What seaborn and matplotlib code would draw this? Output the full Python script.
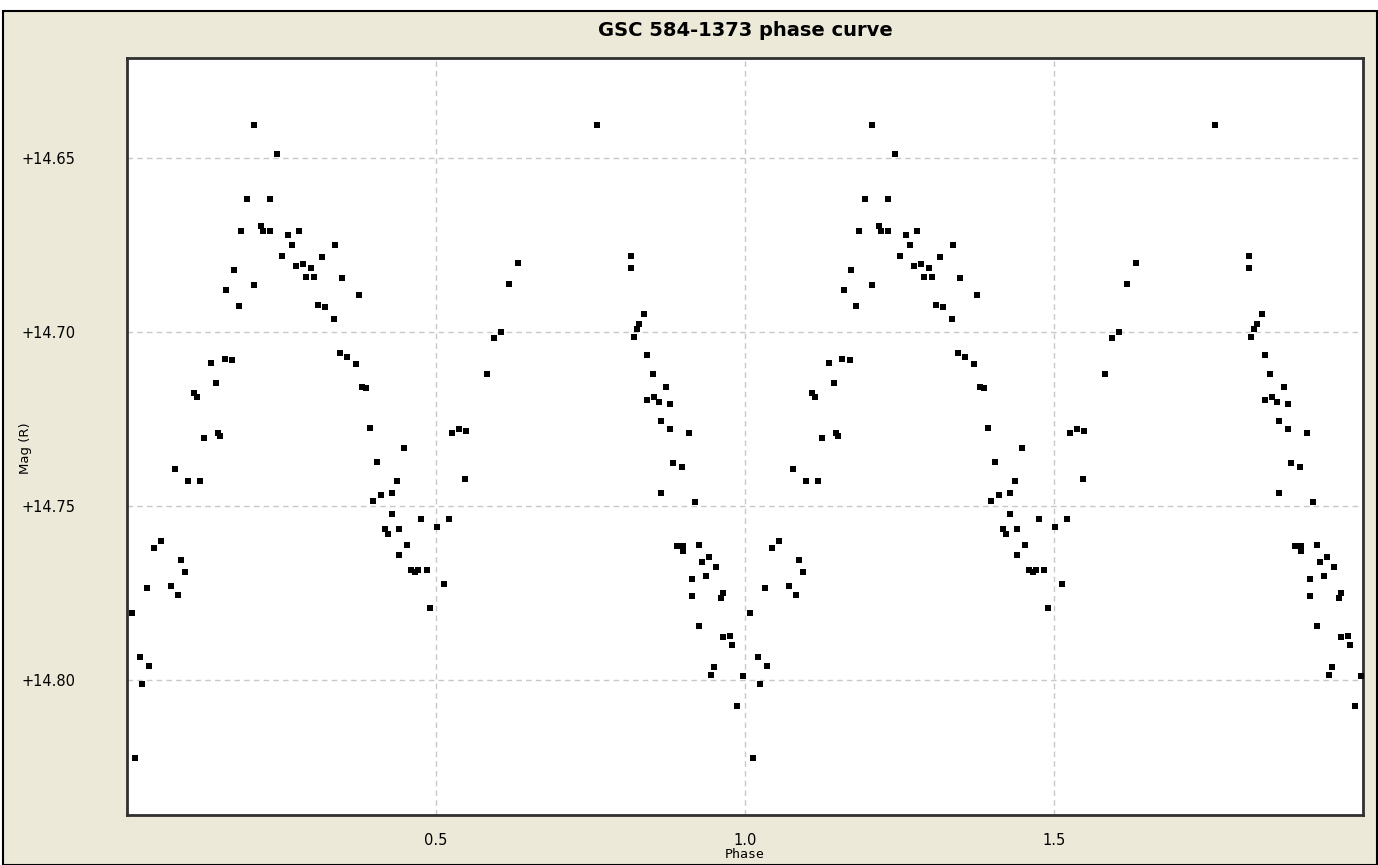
import matplotlib
matplotlib.use("Agg")
import matplotlib.pyplot as plt
from matplotlib.patches import Rectangle
import seaborn as sns
import pandas as pd

# One cycle of the folded light curve (phase 0..1)
phase = [
    0.0076, 0.0130, 0.0216, 0.0243, 0.0329, 0.0357, 0.0438, 0.0551, 0.0713, 0.0773,
    0.0832, 0.0880, 0.0940, 0.0994, 0.1086, 0.1140, 0.1188, 0.1248, 0.1356, 0.1437,
    0.1475, 0.1502, 0.1577, 0.1605, 0.1697, 0.1723, 0.1804, 0.1837, 0.1945, 0.2053,
    0.2053, 0.2161, 0.2193, 0.2313, 0.2313, 0.2420, 0.2507,
    0.2609, 0.2669, 0.2728, 0.2783, 0.2841, 0.2890, 0.2977, 0.3031, 0.3085, 0.3150,
    0.3204, 0.3344, 0.3366, 0.3452, 0.3480, 0.3566, 0.3700, 0.3760, 0.3804, 0.3874,
    0.3928, 0.3976, 0.4041, 0.4117, 0.4170, 0.4230, 0.4284, 0.4284, 0.4371, 0.4397,
    0.4397, 0.4485, 0.4538, 0.4598, 0.4656, 0.4711, 0.4760, 0.4846, 0.4900, 0.5013,
    0.5122, 0.5208, 0.5256, 0.5376, 0.5462, 0.5490, 0.5823, 0.5937, 0.6045, 0.6180,
    0.6321,
    0.7606, 0.8163, 0.8163, 0.8196, 0.8244, 0.8282, 0.8363, 0.8412, 0.8417, 0.8503,
    0.8525, 0.8611, 0.8639, 0.8639, 0.8725, 0.8779, 0.8779, 0.8833, 0.8893, 0.8974,
    0.9000, 0.9000, 0.9087, 0.9141, 0.9141, 0.9194, 0.9254, 0.9254, 0.9308, 0.9363,
    0.9421, 0.9444, 0.9503, 0.9535, 0.9616, 0.9648, 0.9648, 0.9757, 0.9784, 0.9875,
    0.9973,
]
mag = [
    14.7807, 14.8223, 14.7932, 14.8010, 14.7734, 14.7960, 14.7620, 14.7600, 14.7729, 14.7392,
    14.7754, 14.7654, 14.7689, 14.7427, 14.7175, 14.7185, 14.7427, 14.7304, 14.7087, 14.7146,
    14.7289, 14.7299, 14.7076, 14.6879, 14.7081, 14.6820, 14.6924, 14.6710, 14.6617, 14.6404,
    14.6864, 14.6695, 14.6710, 14.6617, 14.6710, 14.6489, 14.6780,
    14.6721, 14.6750, 14.6810, 14.6710, 14.6805, 14.6840, 14.6815, 14.6840, 14.6923, 14.6785,
    14.6928, 14.6963, 14.6750, 14.7061, 14.6845, 14.7071, 14.7091, 14.6894, 14.7156, 14.7161,
    14.7275, 14.7486, 14.7372, 14.7467, 14.7565, 14.7580, 14.7462, 14.7521, 14.7427, 14.7565,
    14.7640, 14.7334, 14.7610, 14.7684, 14.7689, 14.7684, 14.7536, 14.7684, 14.7793, 14.7560,
    14.7724, 14.7536, 14.7289, 14.7279, 14.7422, 14.7284, 14.7121, 14.7018, 14.6998, 14.6860,
    14.6800,
    14.6404, 14.6780, 14.6815, 14.7013, 14.6991, 14.6976, 14.6947, 14.7195, 14.7066, 14.7121,
    14.7186, 14.7200, 14.7254, 14.7462, 14.7156, 14.7206, 14.7278, 14.7377, 14.7613, 14.7388,
    14.7613, 14.7629, 14.7290, 14.7709, 14.7758, 14.7488, 14.7611, 14.7843, 14.7660, 14.7700,
    14.7646, 14.7986, 14.7961, 14.7675, 14.7764, 14.7749, 14.7877, 14.7872, 14.7898, 14.8075,
    14.7989,
]

x_ticks = [0.5, 1.0, 1.5]
x_tick_labels = ["0.5", "1.0", "1.5"]
y_ticks = [14.65, 14.70, 14.75, 14.80]
y_tick_labels = ["+14.65", "+14.70", "+14.75", "+14.80"]

# the phase plot shows two cycles: same points at phase and phase + 1
one = pd.DataFrame({"phase": phase, "mag": mag})
two = one.assign(phase=one["phase"] + 1)
df = pd.concat([one, two], ignore_index=True)

sns.set_style("white")
plt.rcParams["font.family"] = ["DejaVu Sans"]
plt.rcParams["text.color"] = "black"
plt.rcParams["axes.labelcolor"] = "black"

fig = plt.figure(figsize=(13.78, 8.65), dpi=100, facecolor="white")
# beige window panel with a thin black frame
fig.patches.append(Rectangle((0.0022, 0.0), 0.997, 0.987, transform=fig.transFigure,
                             facecolor="#ECE9D8", edgecolor="black", linewidth=1.5,
                             zorder=-10))
ax = fig.add_axes([0.0922, 0.0578, 0.8969, 0.8752])
ax.set_facecolor("white")

sns.scatterplot(data=df, x="phase", y="mag", ax=ax, marker="s", s=20,
                color="black", linewidth=0, zorder=3)

ax.set_xlim(0, 2)
ax.set_ylim(14.8387, 14.6212)
ax.set_xticks(x_ticks)
ax.set_xticklabels(x_tick_labels)
ax.set_yticks(y_ticks)
ax.set_yticklabels(y_tick_labels)
ax.grid(True, color="#C8C8C8", linestyle=(0, (4, 3)), linewidth=1)
ax.tick_params(axis="both", length=0, labelsize=10.5, colors="black")
ax.tick_params(axis="y", pad=37)
ax.tick_params(axis="x", pad=13)

for sp in ax.spines.values():
    sp.set_color("#303030")
    sp.set_linewidth(2)

ax.set_title("GSC 584-1373 phase curve", fontsize=14, fontweight="bold",
             color="black", pad=16)
ax.set_xlabel("Phase", fontsize=9.5, family="DejaVu Sans Mono")
ax.set_ylabel("Mag (R)", fontsize=9.5)
ax.xaxis.set_label_coords(0.5, -0.043)
ax.yaxis.set_label_coords(-0.077, 0.485)

fig.savefig("out.png", dpi=100, facecolor="white")
